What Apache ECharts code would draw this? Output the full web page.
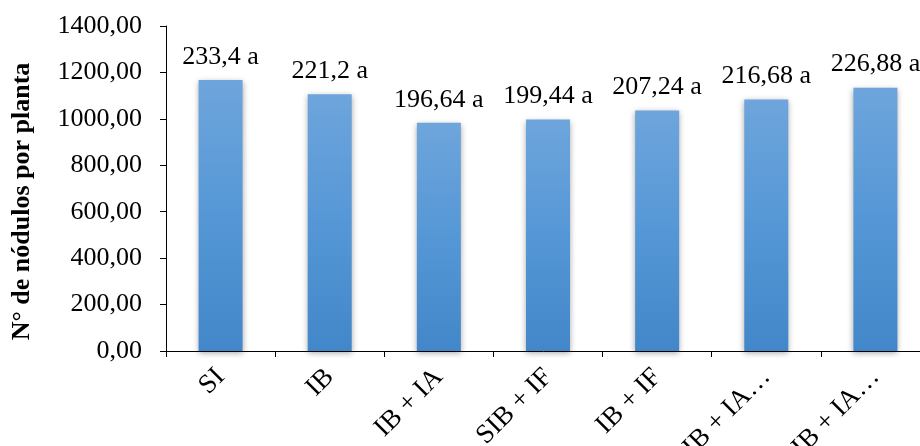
<!DOCTYPE html>
<html>
<head>
<meta charset="utf-8">
<script src="https://cdn.jsdelivr.net/npm/echarts@6/dist/echarts.min.js"></script>
<style>
  html, body { margin: 0; padding: 0; background: #fff; }
  #chart { width: 920px; height: 446px; }
</style>
</head>
<body>
<div id="chart"></div>
<script>
// tratamentos (eixo x)
const categories = ['SI', 'IB', 'IB + IA', 'SIB + IF', 'IB + IF', 'SIB + IA…', 'IB + IA…'];
// altura das barras, lida no eixo
const barValues = [1167, 1106, 983.2, 997.2, 1036.2, 1083.4, 1134.4];
// rótulos sobre as barras
const barLabels = ['233,4 a', '221,2 a', '196,64 a', '199,44 a', '207,24 a', '216,68 a', '226,88 a'];
const yTicks = { min: 0, max: 1400, interval: 200 };

const FONT = '"Liberation Serif", "Times New Roman", serif';

const chart = echarts.init(document.getElementById('chart'));

chart.setOption({
  backgroundColor: '#fff',
  animation: false,
  grid: {
    left: 166, right: -10, top: 26, bottom: 95,
    containLabel: false,
    outerBoundsMode: 'none',
  },
  xAxis: {
    type: 'category',
    data: categories,
    axisLine: { lineStyle: { color: '#000', width: 1 } },
    axisTick: { show: true, length: 6, lineStyle: { color: '#000' } },
    axisLabel: {
      rotate: 45,
      interval: 0,
      margin: 22,
      color: '#000',
      fontFamily: FONT,
      fontSize: 27,
    },
  },
  yAxis: {
    type: 'value',
    min: yTicks.min,
    max: yTicks.max,
    interval: yTicks.interval,
    name: 'N° de nódulos por planta',
    nameLocation: 'middle',
    nameGap: 131,
    nameTextStyle: {
      color: '#000',
      fontFamily: FONT,
      fontSize: 26,
      fontWeight: 'bold',
      padding: [0, 0, 0, -26],
    },
    splitLine: { show: false },
    axisLine: { show: true, lineStyle: { color: '#000', width: 1 } },
    axisTick: { show: true, length: 6, lineStyle: { color: '#000' } },
    axisLabel: {
      margin: 24,
      color: '#000',
      fontFamily: FONT,
      fontSize: 26,
      formatter: v => v.toFixed(2).replace('.', ','),
    },
  },
  series: [{
    type: 'bar',
    data: barValues,
    barWidth: 44,
    itemStyle: {
      color: new echarts.graphic.LinearGradient(0, 0, 0, 1, [
        { offset: 0, color: '#6ea5dc' },
        { offset: 0.5, color: '#5597d6' },
        { offset: 1, color: '#4287c9' },
      ]),
      shadowColor: 'rgba(0,0,0,0.35)',
      shadowBlur: 6,
      shadowOffsetX: 0,
      shadowOffsetY: 2,
    },
    label: {
      show: true,
      position: 'top',
      distance: 10,
      color: '#000',
      fontFamily: FONT,
      fontSize: 26,
      formatter: p => barLabels[p.dataIndex],
    },
  }],
});
</script>
</body>
</html>
